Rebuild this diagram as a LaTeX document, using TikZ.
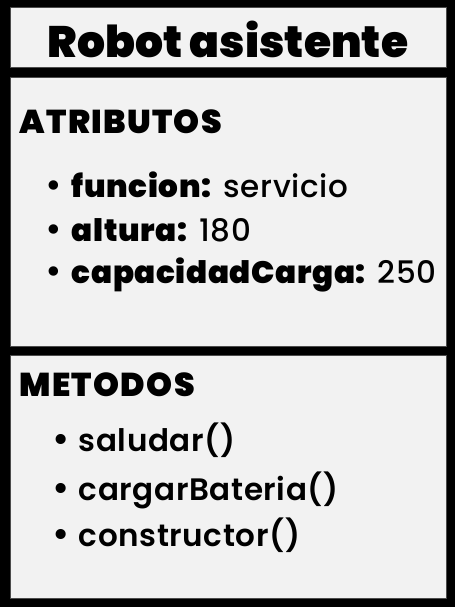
\documentclass[tikz,border=0pt]{standalone}
\usepackage{fontspec}
\setmainfont{Poppins}[UprightFont=* Medium, BoldFont=* Black]
\newfontfamily\methodfont{Poppins SemiBold}[LetterSpace=2]
\newcommand{\dotitem}{{\fontsize{36}{36}\selectfont\textbullet}\hspace{9pt}}
\begin{document}
\begin{tikzpicture}[x=1pt,y=-1pt]
\tikzset{panel/.style={fill=black!5, draw=black!70, line width=1pt},
  heading/.style={anchor=west, font=\bfseries\fontsize{33}{34}\selectfont\addfontfeature{LetterSpace=4}},
  item/.style={anchor=west, font=\fontsize{31}{32}\selectfont\addfontfeature{LetterSpace=2}},
  method/.style={anchor=west, font=\methodfont\fontsize{31}{32}\selectfont}}
\fill[black] (0,0) rectangle (455,607);

\draw[panel] (10,8) rectangle (446,68);
\draw[panel] (10,78) rectangle (446,346);
\draw[panel] (10,355) rectangle (446,598);

\node (title) at (228,39) {\bfseries\fontsize{44}{45}\selectfont Robot asistente};

\node[heading] (atributos) at (16,122) {ATRIBUTOS};
\node[item] (funcion) at (42,185) {\dotitem\textbf{funcion:} servicio};
\node[item] (altura) at (42,230) {\dotitem\textbf{altura:} 180};
\node[item] (carga) at (42,275) {\dotitem\textbf{capacidadCarga:} 250};

\node[heading] (metodos) at (16,385) {METODOS};
\node[method] (saludar) at (49,440) {\dotitem saludar()};
\node[method] (cargar) at (49,490) {\dotitem cargarBateria()};
\node[method] (constructor) at (49,535) {\dotitem constructor()};
\end{tikzpicture}
\end{document}
